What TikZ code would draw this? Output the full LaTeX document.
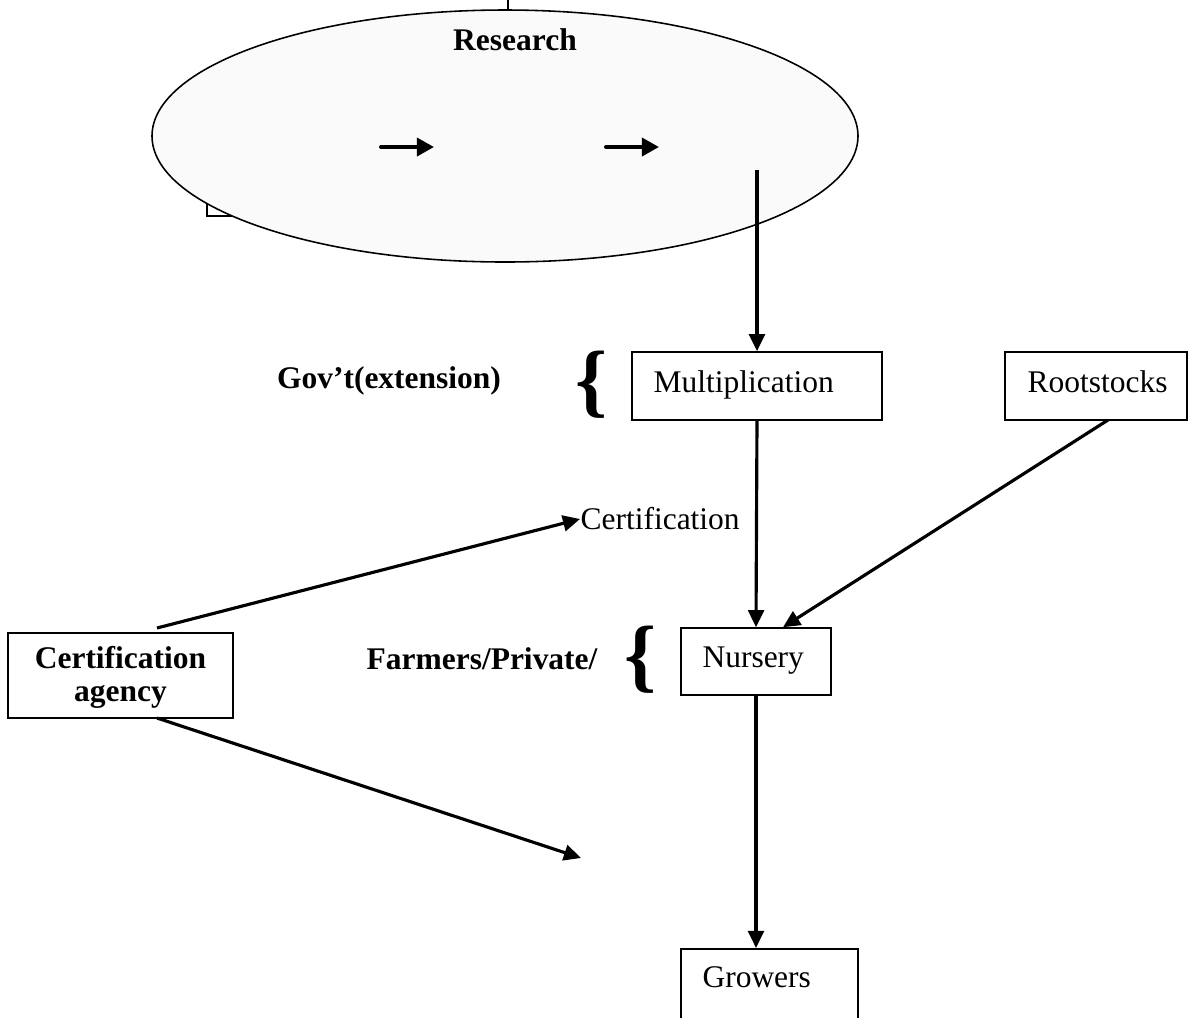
\documentclass[tikz,border=0pt]{standalone}
\usepackage{fontspec}
\setmainfont{Liberation Serif}
\usetikzlibrary{arrows.meta,shapes.geometric}
% one drawing unit in points
\newcommand\pxu{0.381pt}
\begin{document}
\begin{tikzpicture}[x=\pxu,y=-\pxu,
  box/.style={draw,line width=0.6pt,inner sep=0pt},
  lbl/.style={inner sep=0pt,font=\fontsize{12}{14}\selectfont},
  blbl/.style={inner sep=0pt,font=\fontsize{12}{14}\selectfont\bfseries},
  flow/.style={line width=1.2pt,-{Triangle[length=6.5pt,width=6pt]}},
  smallflow/.style={line width=1.5pt,line cap=round,-{Triangle[length=6.5pt,width=6.8pt]}},
  brace/.style={inner sep=0pt,font=\fontsize{31}{31}\selectfont\bfseries}]
\clip (0,0) rectangle (1198,1017);
\fill[white] (0,0) rectangle (1198,1017);

% research stage
\draw[line width=0.6pt] (207,150) rectangle (300,216);
\draw[line width=0.5pt] (508,0) -- (508,12);
\node[draw,line width=0.6pt,fill={rgb,255:red,250;green,250;blue,250},ellipse,
      minimum width=706*\pxu,minimum height=252*\pxu,inner sep=0pt] (res) at (505,136) {};
\node[blbl] (restitle) at (515,40) {Research};
\coordinate (a1s) at (381,147); \coordinate (a1e) at (434,147);
\coordinate (a2s) at (606,147); \coordinate (a2e) at (659,147);
\draw[smallflow] (a1s) -- (a1e);
\draw[smallflow] (a2s) -- (a2e);
\coordinate (resout) at (757,170);

% boxes
\node[box,minimum width=250*\pxu,minimum height=68*\pxu] (mult) at (757,386) {};
\node[lbl,anchor=base west] (multtxt) at (653,392) {Multiplication};
\node[box,minimum width=182*\pxu,minimum height=68*\pxu] (root) at (1096,386) {};
\node[lbl,anchor=base west] (roottxt) at (1027,392) {Rootstocks};
\node[box,minimum width=150*\pxu,minimum height=67*\pxu] (nurs) at (756,661.5) {};
\node[lbl,anchor=base west] (nurstxt) at (702,667) {Nursery};
\node[box,minimum width=225*\pxu,minimum height=85*\pxu] (agency) at (120.5,675.5) {};
\node[blbl,align=center,font=\fontsize{12}{12.6}\selectfont\bfseries] (agencytxt) at (120.5,677) {Certification\\agency};
\node[box,minimum width=177*\pxu,minimum height=140*\pxu,anchor=north] (grow) at (769.5,948) {};
\node[lbl,anchor=base west] (growtxt) at (702,987) {Growers};

% side labels and braces
\node[blbl] (gov) at (389,381) {Gov’t(extension)};
\node[brace] (br1) at (592,385) {\{};
\node[blbl] (farm) at (482,659) {Farmers/Private/};
\node[brace] (br2) at (641,660) {\{};
\node[lbl,anchor=west] (cert) at (580,519) {Certification};

% connectors
\coordinate (agtop) at (157,628);
\coordinate (agbot) at (157,718);
\coordinate (free) at (581,858);
\coordinate (rootout) at (1108,420);
\draw[flow] (resout) -- (mult.north);
\draw[flow] (mult.south) -- (nurs.north);
\draw[flow] (rootout) -- ([xshift=27*\pxu]nurs.north);
\draw[flow] (agtop) -- (cert.west);
\draw[flow] (agbot) -- (free);
\draw[flow] (nurs.south) -- (grow.north -| nurs.south);
\end{tikzpicture}
\end{document}
